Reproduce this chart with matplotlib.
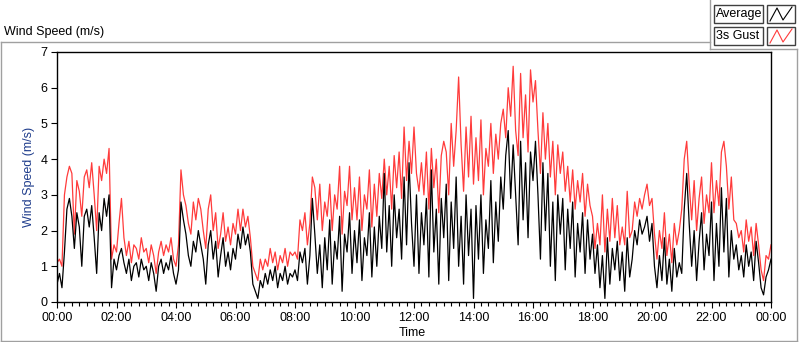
import numpy as np
import matplotlib.pyplot as plt
from matplotlib.ticker import MultipleLocator, FuncFormatter
from matplotlib.lines import Line2D
from matplotlib.patches import Rectangle

plt.rcParams['font.family'] = ['Liberation Sans', 'DejaVu Sans']
plt.rcParams['font.size'] = 9

# one reading every 5 minutes, 00:00 .. 24:00 (12 values per hour)
sample_min = 5

average = [
    0.5, 0.8, 0.4, 1.4, 2.6, 2.9, 2.4, 1.5, 2.5, 2.1, 1.0, 2.4,   # 00h
    2.6, 2.1, 2.7, 1.8, 0.8, 2.5, 2.0, 2.9, 2.4, 3.0, 0.4, 1.2,   # 01h
    0.9, 1.3, 1.5, 1.1, 0.8, 1.2, 0.6, 1.0, 1.1, 0.7, 1.2, 0.9,   # 02h
    1.0, 0.6, 1.1, 0.8, 0.3, 1.0, 1.2, 0.8, 1.1, 0.9, 1.3, 0.8,   # 03h
    0.5, 0.9, 2.8, 2.3, 1.9, 1.3, 1.0, 1.7, 1.4, 2.0, 1.6, 1.2,   # 04h
    0.5, 1.6, 2.0, 1.2, 1.7, 0.7, 1.3, 1.8, 1.0, 1.4, 0.9, 1.5,   # 05h
    1.2, 1.9, 1.5, 2.1, 1.6, 1.9, 1.4, 0.5, 0.3, 0.1, 0.6, 0.4,   # 06h
    0.8, 0.5, 0.9, 0.6, 1.0, 0.4, 0.8, 0.6, 1.0, 0.5, 0.8, 0.7,   # 07h
    0.9, 0.6, 1.4, 1.1, 1.5, 0.5, 1.3, 2.9, 1.9, 0.8, 1.6, 0.4,   # 08h
    1.8, 0.9, 2.3, 0.5, 1.7, 1.2, 2.4, 0.3, 1.9, 1.4, 2.5, 0.8,   # 09h
    2.0, 1.1, 2.3, 0.6, 1.8, 1.3, 2.5, 0.7, 2.1, 1.0, 2.4, 1.5,   # 10h
    3.6, 1.4, 2.7, 1.0, 3.0, 1.8, 2.6, 1.2, 3.5, 1.6, 3.9, 2.2,   # 11h
    1.0, 3.0, 0.8, 2.5, 1.6, 2.9, 0.7, 3.7, 1.4, 2.6, 0.5, 2.9,   # 12h
    1.8, 3.3, 0.6, 2.8, 1.5, 3.5, 1.0, 2.4, 0.5, 3.0, 1.3, 2.6,   # 13h
    0.1, 2.7, 1.2, 3.0, 0.8, 2.3, 1.5, 3.4, 1.1, 2.8, 1.7, 3.5,   # 14h
    2.6, 4.1, 4.8, 2.9, 4.4, 3.0, 1.6, 4.5, 2.3, 3.9, 1.8, 4.2,   # 15h
    3.4, 4.5, 3.0, 1.2, 3.9, 2.0, 3.6, 1.0, 2.8, 0.6, 3.0, 1.9,   # 16h
    2.9, 0.9, 2.6, 1.5, 2.8, 0.7, 2.2, 1.4, 2.5, 0.8, 2.3, 1.2,   # 17h
    1.9, 0.8, 1.6, 0.4, 1.3, 0.1, 1.8, 0.5, 1.5, 0.9, 1.7, 0.6,   # 18h
    1.4, 0.3, 1.8, 0.7, 1.2, 2.0, 1.6, 2.3, 1.9, 2.1, 2.4, 1.7,   # 19h
    2.2, 1.0, 0.4, 1.3, 0.6, 1.8, 0.5, 1.2, 0.3, 1.5, 0.7, 1.1,   # 20h
    0.8, 2.6, 3.6, 2.2, 1.0, 2.0, 0.6, 1.7, 2.5, 0.9, 1.9, 1.3,   # 21h
    2.8, 0.6, 2.2, 1.0, 3.2, 1.4, 2.9, 0.7, 2.0, 1.2, 1.6, 0.9,   # 22h
    1.3, 0.7, 1.6, 1.0, 1.4, 0.6, 1.7, 1.1, 0.4, 0.2, 0.7, 0.9,   # 23h
    1.2,
]

gust = [
    1.1, 1.2, 1.0, 3.0, 3.5, 3.8, 3.6, 1.9, 3.4, 3.1, 2.4, 3.5,   # 00h
    3.7, 3.2, 3.9, 3.0, 2.0, 3.8, 3.4, 4.0, 3.6, 4.3, 1.2, 1.6,   # 01h
    1.4, 2.2, 2.9, 1.8, 1.3, 1.7, 1.1, 1.6, 1.5, 1.2, 1.8, 1.4,   # 02h
    1.5, 1.1, 1.6, 1.3, 0.8, 1.4, 1.7, 1.3, 1.6, 1.4, 1.8, 1.2,   # 03h
    1.0, 1.6, 3.7, 3.0, 2.7, 2.2, 1.9, 2.8, 2.3, 2.9, 2.6, 2.0,   # 04h
    1.5, 2.6, 3.0, 2.0, 2.5, 1.5, 1.9, 2.5, 1.7, 2.1, 1.6, 2.2,   # 05h
    1.9, 2.6, 2.0, 2.6, 2.1, 2.4, 1.8, 1.0, 0.8, 0.6, 1.2, 0.9,   # 06h
    1.2, 1.0, 1.5, 1.1, 1.4, 0.9, 1.3, 1.1, 1.5, 1.0, 1.4, 1.3,   # 07h
    1.4, 1.2, 2.3, 2.0, 2.5, 1.6, 2.2, 3.5, 3.2, 2.3, 3.3, 2.0,   # 08h
    2.8, 2.4, 3.3, 2.0, 3.0, 2.6, 3.8, 1.9, 3.1, 2.7, 3.8, 2.3,   # 09h
    3.2, 2.3, 3.5, 2.0, 3.0, 2.6, 3.7, 2.1, 3.3, 2.4, 3.6, 2.9,   # 10h
    4.0, 3.0, 3.8, 2.6, 4.1, 3.2, 4.2, 2.9, 4.9, 3.4, 4.5, 3.6,   # 11h
    4.9, 3.6, 3.1, 3.9, 3.0, 4.2, 2.6, 4.3, 3.2, 4.0, 2.5, 4.1,   # 12h
    4.5, 4.2, 3.0, 5.0, 3.8, 4.8, 6.3, 4.4, 3.1, 4.9, 3.5, 5.2,   # 13h
    3.3, 4.6, 3.4, 5.1, 3.0, 4.3, 3.8, 5.0, 3.6, 4.7, 4.0, 5.0,   # 14h
    5.4, 4.6, 6.0, 5.2, 6.6, 4.8, 4.1, 6.4, 4.6, 5.8, 4.2, 6.5,   # 15h
    5.6, 6.2, 4.8, 3.6, 5.3, 4.0, 5.0, 3.5, 4.5, 3.0, 4.4, 3.6,   # 16h
    4.2, 3.1, 3.8, 2.8, 3.7, 2.6, 3.4, 2.8, 3.6, 2.4, 3.3, 2.7,   # 17h
    2.4, 1.5, 2.2, 1.6, 3.0, 1.4, 2.6, 1.7, 2.9, 1.8, 2.7, 1.6,   # 18h
    2.1, 1.6, 3.1, 1.8, 2.0, 2.8, 2.4, 2.9, 2.6, 3.0, 3.3, 2.7,   # 19h
    2.9, 1.9, 1.2, 2.0, 1.5, 2.5, 1.3, 1.9, 1.1, 2.2, 1.6, 2.0,   # 20h
    2.6, 4.0, 4.5, 3.3, 2.3, 3.4, 2.0, 2.9, 3.5, 2.2, 3.0, 2.5,   # 21h
    3.9, 2.5, 3.4, 2.7, 4.2, 4.5, 3.8, 2.6, 3.5, 2.3, 2.2, 1.8,   # 22h
    2.0, 1.4, 2.3, 1.7, 2.1, 1.3, 2.2, 1.6, 0.9, 0.6, 1.3, 1.2,   # 23h
    1.6,
]

series_names = ['Average', '3s Gust']
series_colors = ['black', '#ff3b3b']

hours = np.arange(len(average)) * sample_min / 60.0

W, H = 800, 342
def fx(x):
    return x / W
def fy(y):
    return 1 - y / H

fig = plt.figure(figsize=(W / 100, H / 100), dpi=100)
ax = fig.add_axes([fx(57), fy(302), 714 / W, 250 / H])

ax.plot(hours, gust, color=series_colors[1], lw=0.9)
ax.plot(hours, average, color=series_colors[0], lw=0.9)

ax.set_xlim(0, 24)
ax.set_ylim(0, 7)
ax.xaxis.set_major_locator(MultipleLocator(2))
ax.xaxis.set_minor_locator(MultipleLocator(0.25))
ax.xaxis.set_major_formatter(FuncFormatter(lambda v, p: '%02d:00' % (int(round(v)) % 24)))
ax.yaxis.set_major_locator(MultipleLocator(1))
ax.tick_params(direction='out', length=4, width=0.8, pad=3, colors='black')
ax.tick_params(which='minor', length=3, width=0.8)
for s in ax.spines.values():
    s.set_linewidth(1.0)

ax.set_xlabel('Time')
ax.xaxis.set_label_coords(0.497, -0.1)
ax.set_ylabel('Wind Speed (m/s)', color='#1f3d8c')
ax.yaxis.set_label_coords(-0.031, 0.5)

fig.text(fx(4), fy(32), 'Wind Speed (m/s)', va='center', ha='left')

# panel frame
gray = '#a0a0a0'
def fline(xs, ys, **kw):
    fig.add_artist(Line2D([fx(v) for v in xs], [fy(v) for v in ys],
                          transform=fig.transFigure, **kw))

fline([0.5, 710], [42, 42], color=gray, lw=1)
fline([0.5, 0.5], [42, 341], color=gray, lw=1)
fline([0.5, 797], [341, 341], color=gray, lw=1)
fline([797, 797], [49, 341], color=gray, lw=1)
fline([710, 710], [0, 49], color=gray, lw=1)
fline([710, 797], [49, 49], color=gray, lw=1)

# legend rows
for i, (name, col) in enumerate(zip(series_names, series_colors)):
    top = 5 + i * 22
    fig.add_artist(Rectangle((fx(714), fy(top + 18)), 49 / W, 18 / H,
                             transform=fig.transFigure, fill=False,
                             ec='#404040', lw=1))
    fig.add_artist(Rectangle((fx(767), fy(top + 18)), 28 / W, 18 / H,
                             transform=fig.transFigure, fill=False,
                             ec='#404040', lw=1))
    fig.text(fx(716), fy(top + 9), name, va='center', ha='left')
    fline([770, 777, 783, 792], [top + 16, top + 3, top + 15, top + 2],
          color=col, lw=0.8)

fig.savefig('out.png', dpi=100)
